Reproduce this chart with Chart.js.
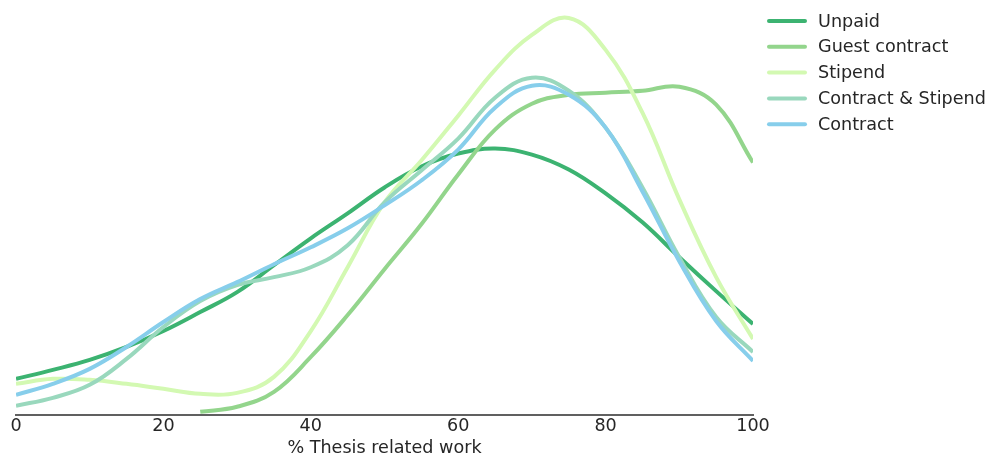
<!DOCTYPE html>
<html>
<head>
<meta charset="utf-8">
<script src="https://cdn.jsdelivr.net/npm/chart.js@4"></script>
<style>
  html, body { margin: 0; padding: 0; background: #fff; }
  canvas { display: block; }
</style>
</head>
<body>
<canvas id="chart" width="991" height="461"></canvas>
<script>
// x positions (% thesis related work)
const xs = [0, 5, 10, 15, 20, 25, 30, 35, 40, 45, 50, 55, 60, 65, 70, 75, 80, 85, 90, 95, 100];
const xTicks = [0, 20, 40, 60, 80, 100];

// density curves (arbitrary units)
const unpaid = [36, 45, 55, 68, 84, 103, 123, 150, 177, 202, 228, 249, 262, 267, 261, 246, 222, 193, 158, 124, 91];
const guestContract = [null, null, null, null, null, 3, 8, 23, 58, 100, 146, 191, 241, 286, 312, 321, 323, 325, 329, 311, 253];
const stipend = [31, 36, 35, 31, 26, 21, 22, 38, 84, 148, 213, 255, 300, 346, 381, 398, 366, 303, 216, 138, 76];
const contractStipend = [9, 17, 30, 56, 88, 114, 130, 138, 148, 170, 213, 245, 277, 318, 338, 325, 288, 228, 158, 98, 63];
const contract = [20, 31, 46, 68, 93, 116, 133, 151, 168, 187, 210, 235, 266, 308, 330, 321, 288, 224, 154, 94, 54];

const labels = ["Unpaid", "Guest contract", "Stipend", "Contract & Stipend", "Contract"];
const colors = ["#3cb371", "#93d58c", "#d3f9b2", "#99d8bd", "#87ceeb"];
const series = [unpaid, guestContract, stipend, contractStipend, contract];

const toPoints = vals => xs.map((x, i) => ({ x: x, y: vals[i] })).filter(p => p.y !== null);

const textColor = "#262626";
const fontFamily = "'DejaVu Sans', sans-serif";
const fontSize = 17.6;

// legend drawn on the right, outside the plot
const sideLegend = {
  id: "sideLegend",
  afterDraw(chart) {
    const ctx = chart.ctx;
    ctx.save();
    chart.data.datasets.forEach((ds, i) => {
      const y = 21 + i * 25.8;
      ctx.strokeStyle = ds.borderColor;
      ctx.lineWidth = 4;
      ctx.lineCap = "round";
      ctx.beginPath();
      ctx.moveTo(769, y);
      ctx.lineTo(805, y);
      ctx.stroke();
      ctx.fillStyle = textColor;
      ctx.font = fontSize + "px " + fontFamily;
      ctx.textBaseline = "middle";
      ctx.fillText(ds.label, 818, y + 1);
    });
    ctx.restore();
  }
};

new Chart(document.getElementById("chart"), {
  type: "line",
  data: {
    datasets: series.map((vals, i) => ({
      label: labels[i],
      data: toPoints(vals),
      borderColor: colors[i],
      backgroundColor: colors[i],
      borderWidth: 4,
      pointRadius: 0,
      fill: false,
      tension: 0.4,
      order: labels.length - i
    }))
  },
  options: {
    responsive: false,
    animation: false,
    layout: {
      padding: { left: 16, right: 238, top: 10, bottom: 2 }
    },
    plugins: {
      legend: { display: false },
      tooltip: { enabled: false }
    },
    scales: {
      x: {
        type: "linear",
        min: 0,
        max: 100,
        afterBuildTicks: axis => { axis.ticks = xTicks.map(v => ({ value: v })); },
        grid: { display: false, drawTicks: false },
        border: { display: true, color: "#606060", width: 2 },
        ticks: {
          color: textColor,
          padding: 1,
          font: { family: fontFamily, size: fontSize }
        },
        title: {
          display: true,
          text: "% Thesis related work",
          color: textColor,
          padding: 0,
          font: { family: fontFamily, size: fontSize }
        }
      },
      y: {
        display: false,
        min: 0,
        max: 406
      }
    }
  },
  plugins: [sideLegend]
});
</script>
</body>
</html>
